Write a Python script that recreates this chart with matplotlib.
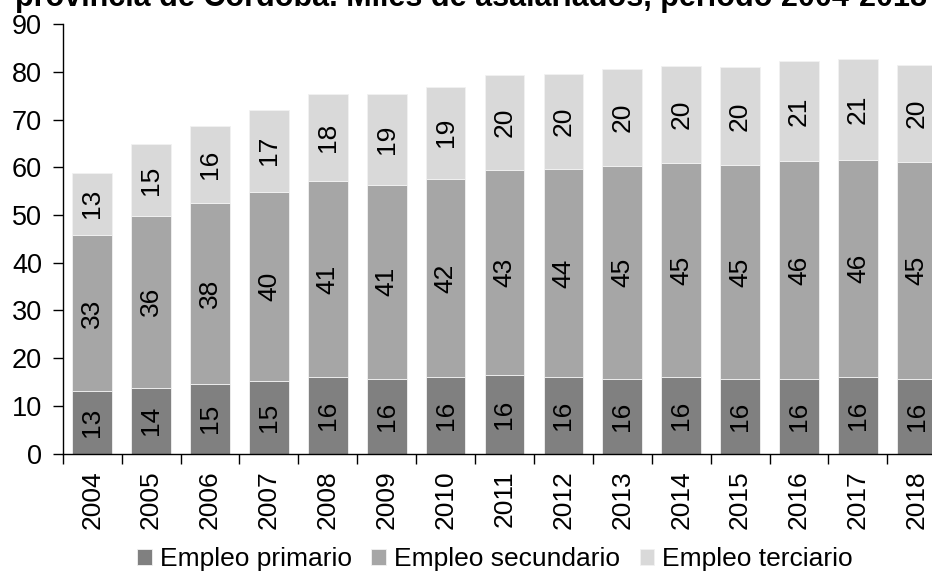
import matplotlib
matplotlib.use("Agg")
import matplotlib.pyplot as plt
import numpy as np

plt.rcParams['font.family'] = ['Liberation Sans', 'DejaVu Sans']

# data (miles de asalariados)
years = ["2004", "2005", "2006", "2007", "2008", "2009", "2010", "2011",
         "2012", "2013", "2014", "2015", "2016", "2017", "2018"]
primario = [13.0, 13.8, 14.6, 15.3, 16.0, 15.7, 16.0, 16.5,
            16.0, 15.7, 16.0, 15.55, 15.55, 16.0, 15.7]
secundario = [32.8, 36.0, 37.9, 39.6, 41.1, 40.6, 41.6, 42.9,
              43.6, 44.6, 44.8, 44.95, 45.75, 45.6, 45.35]
terciario = [13.1, 15.0, 16.2, 17.2, 18.3, 19.1, 19.3, 20.0,
             20.0, 20.4, 20.4, 20.45, 21.0, 21.0, 20.45]
series_names = ["Empleo primario", "Empleo secundario", "Empleo terciario"]
colors = ["#808080", "#a6a6a6", "#d9d9d9"]

fig = plt.figure(figsize=(9.32, 5.74), dpi=100)
ax = fig.add_axes([0.0673, 0.2099, 0.948, 0.748])

x = np.arange(len(years))
bottom = np.zeros(len(years))
for vals, name, col in zip([primario, secundario, terciario], series_names, colors):
    bars = ax.bar(x, vals, 0.673, bottom=bottom, color=col, label=name,
                  edgecolor="#f2f2f2", linewidth=0.6)
    ax.bar_label(bars, fmt="{:.0f}", label_type="center", rotation=90,
                 fontsize=19, color="black")
    bottom += np.array(vals)

ax.set_xlim(-0.5, len(years) - 0.5)
ax.set_ylim(0, 90)
ax.set_yticks(range(0, 91, 10))
ax.tick_params(axis="y", labelsize=19.5, length=7, width=1, pad=8, direction="out")

ax.set_xticks(x)
ax.set_xticklabels(years, rotation=90)
ax.tick_params(axis="x", which="major", length=0, labelsize=19, pad=12)
ax.set_xticks(np.arange(-0.5, len(years), 1), minor=True)
ax.tick_params(axis="x", which="minor", length=7, width=1, direction="out")

for s in ["top", "right"]:
    ax.spines[s].set_visible(False)
for s in ["left", "bottom"]:
    ax.spines[s].set_linewidth(1)
    ax.spines[s].set_color("black")

fig.legend(loc="center", bbox_to_anchor=(0.531, 0.026), ncol=3, frameon=False,
           fontsize=19, handlelength=0.55, handleheight=0.55, handletextpad=0.3,
           columnspacing=0.75, borderpad=0)

fig.text(0.505, 0.9895, "provincia de Córdoba. Miles de asalariados, período 2004-2018",
         ha="center", va="baseline", fontsize=22, fontweight="bold")

fig.savefig("out.png", dpi=100)
